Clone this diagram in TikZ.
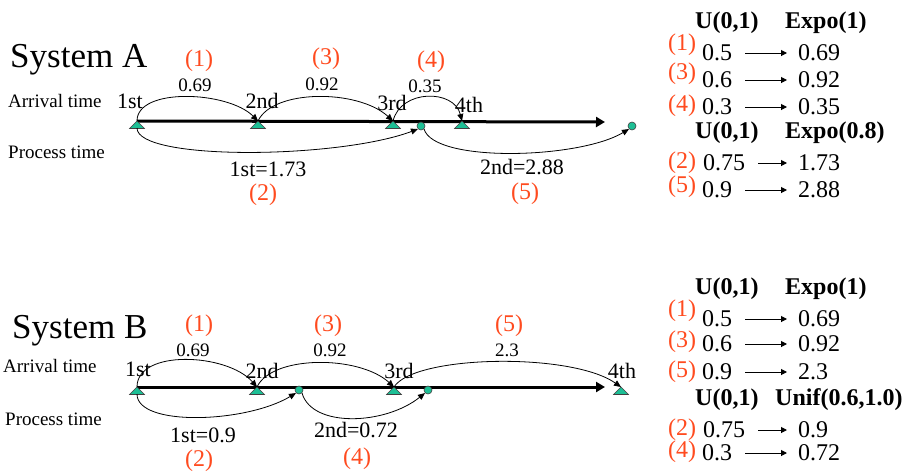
\documentclass[tikz,border=0pt]{standalone}
\usepackage{fontspec}
\setmainfont{Liberation Serif}
\usepackage{tikz}
\usetikzlibrary{arrows.meta}
\definecolor{arrgreen}{HTML}{1DBF95}
\definecolor{stepred}{HTML}{FF4B1F}

\begin{document}
\begin{tikzpicture}[
  x=1pt, y=1pt,
  systitle/.style={font=\fontsize{35}{40}\selectfont, inner sep=0pt, anchor=base west},
  rowlbl/.style={font=\fontsize{19}{22}\selectfont, inner sep=0pt, anchor=west},
  ordlbl/.style={font=\fontsize{22}{26}\selectfont, inner sep=0pt},
  vallbl/.style={font=\fontsize{19}{22}\selectfont, inner sep=0pt},
  durlbl/.style={font=\fontsize{22}{26}\selectfont, inner sep=0pt},
  steplbl/.style={font=\fontsize{24}{28}\selectfont, text=stepred, inner sep=0pt},
  colhead/.style={font=\bfseries\fontsize{24}{28}\selectfont, inner sep=0pt, anchor=west},
  numtxt/.style={font=\fontsize{24}{28}\selectfont, inner sep=0pt, anchor=west},
  timeline/.style={line width=3pt, -{Triangle[length=9pt,width=10pt]}},
  hop/.style={line width=0.8pt, -{Triangle[length=7pt,width=6pt]}},
  mapto/.style={line width=1pt, -{Triangle[length=6pt,width=6pt]},
                shorten <=13pt, shorten >=11pt},
  endpt/.style={circle, fill=arrgreen, draw=black!75, line width=0.6pt,
                minimum size=8pt, inner sep=0pt},
  arrv/.pic={\filldraw[fill=arrgreen, draw=black!75, line width=0.6pt]
             (0,0) -- (7.5,-7.5) -- (-7.5,-7.5) -- cycle;}
]
\useasboundingbox (0,0) rectangle (914,-472);

% ---------- System A ----------
\node[systitle] (sysA) at (10,-67) {System A};
\node[rowlbl] (arrA) at (8,-101) {Arrival time};
\node[rowlbl] (prcA) at (8,-152) {Process time};

\coordinate (tA1) at (137,-121);
\coordinate (tA2) at (258,-121);
\coordinate (tA3) at (393,-121);
\coordinate (tA4) at (462,-121);
\coordinate (endA) at (605,-122);

\draw[timeline] (tA1) -- (endA);
\pic at (tA1) {arrv};
\pic at (tA2) {arrv};
\pic at (tA3) {arrv};
\pic at (tA4) {arrv};
\node[endpt] (cA1) at (421,-126) {};
\node[endpt] (cA2) at (632,-126) {};

\node[ordlbl] (oA1) at (130,-101) {1st};
\node[ordlbl] (oA2) at (262,-101) {2nd};
\node[ordlbl] (oA3) at (392,-103) {3rd};
\node[ordlbl] (oA4) at (469,-105) {4th};

\draw[hop] (tA1) .. controls +(0,34) and +(-30,30) .. (tA2);
\draw[hop] (tA2) .. controls +(15,32) and +(-35,32) .. (tA3);
\draw[hop] (tA3) .. controls +(8,32) and +(-8,32) .. (tA4);
\draw[hop] ([yshift=-7pt]tA1) .. controls +(0,-33) and +(-80,-30) .. (cA1.south west);
\draw[hop] (cA1.south east) .. controls +(10,-34) and +(-50,-30) .. (cA2.south west);

\node[vallbl] (vA1) at (195,-85) {0.69};
\node[vallbl] (vA3) at (322,-84) {0.92};
\node[vallbl] (vA4) at (425,-86) {0.35};
\node[steplbl] (sA1) at (199,-61) {(1)};
\node[steplbl] (sA3) at (326,-59) {(3)};
\node[steplbl] (sA4) at (431,-62) {(4)};
\node[durlbl] (dA2) at (268,-169) {1st=1.73};
\node[durlbl] (dA5) at (522,-167) {2nd=2.88};
\node[steplbl] (sA2) at (263,-195) {(2)};
\node[steplbl] (sA5) at (525,-194) {(5)};

% table A
\node[colhead] (hA1) at (695,-23) {U(0,1)};
\node[colhead] (hA2) at (785,-23) {Expo(1)};
\node[steplbl, anchor=west] (kA1) at (668,-45) {(1)};
\node[numtxt] (uA1) at (702,-53) {0.5};
\node[numtxt] (eA1) at (798,-53) {0.69};
\node[steplbl, anchor=west] (kA3) at (668,-74) {(3)};
\node[numtxt] (uA3) at (702,-80) {0.6};
\node[numtxt] (eA3) at (798,-80) {0.92};
\node[steplbl, anchor=west] (kA4) at (668,-106) {(4)};
\node[numtxt] (uA4) at (702,-107) {0.3};
\node[numtxt] (eA4) at (798,-107) {0.35};
\node[colhead] (hA3) at (695,-133) {U(0,1)};
\node[colhead] (hA4) at (785,-133) {Expo(0.8)};
\node[steplbl, anchor=west] (kA2) at (668,-163) {(2)};
\node[numtxt] (uA2) at (703,-163) {0.75};
\node[numtxt] (eA2) at (798,-163) {1.73};
\node[steplbl, anchor=west] (kA5) at (668,-187) {(5)};
\node[numtxt] (uA5) at (702,-190) {0.9};
\node[numtxt] (eA5) at (798,-190) {2.88};
\draw[mapto] (uA1.east) -- (eA1.west);
\draw[mapto] (uA3.east) -- (eA3.west);
\draw[mapto] (uA4.east) -- (eA4.west);
\draw[mapto] (uA2.east) -- (eA2.west);
\draw[mapto] (uA5.east) -- (eA5.west);

% ---------- System B ----------
\node[systitle] (sysB) at (12,-338) {System B};
\node[rowlbl] (arrB) at (3,-366) {Arrival time};
\node[rowlbl] (prcB) at (5,-419) {Process time};

\coordinate (tB1) at (137,-387);
\coordinate (tB2) at (257,-387);
\coordinate (tB3) at (394,-387);
\coordinate (tB4) at (621,-387);
\coordinate (endB) at (605,-387);

\draw[timeline] (tB1) -- (endB);
\pic at (tB1) {arrv};
\pic at (tB2) {arrv};
\pic at (tB3) {arrv};
\pic at (tB4) {arrv};
\node[endpt] (cB1) at (299,-390) {};
\node[endpt] (cB2) at (428,-390) {};

\node[ordlbl] (oB1) at (138,-369) {1st};
\node[ordlbl] (oB2) at (262,-371) {2nd};
\node[ordlbl] (oB3) at (399,-371) {3rd};
\node[ordlbl] (oB4) at (622,-371) {4th};

\draw[hop] (tB1) .. controls +(0,38) and +(-30,34) .. (tB2);
\draw[hop] (tB2) .. controls +(15,32) and +(-35,32) .. (tB3);
\draw[hop] (tB3) .. controls +(20,32) and +(-50,35) .. (tB4);
\draw[hop] ([yshift=-7pt]tB1) .. controls +(0,-33) and +(-50,-30) .. (cB1.south west);
\draw[hop] (cB1.south east) .. controls +(10,-35) and +(-40,-32) .. (cB2.south west);

\node[vallbl] (vB1) at (193,-350) {0.69};
\node[vallbl] (vB3) at (330,-350) {0.92};
\node[vallbl] (vB5) at (507,-350) {2.3};
\node[steplbl] (sB1) at (199,-326) {(1)};
\node[steplbl] (sB3) at (328,-326) {(3)};
\node[steplbl] (sB5) at (509,-326) {(5)};
\node[durlbl] (dB2) at (203,-435) {1st=0.9};
\node[durlbl] (dB4) at (356,-430) {2nd=0.72};
\node[steplbl] (sB2) at (199,-461) {(2)};
\node[steplbl] (sB4) at (357,-459) {(4)};

% table B
\node[colhead] (hB1) at (695,-289) {U(0,1)};
\node[colhead] (hB2) at (785,-289) {Expo(1)};
\node[steplbl, anchor=west] (kB1) at (668,-311) {(1)};
\node[numtxt] (uB1) at (702,-319) {0.5};
\node[numtxt] (eB1) at (798,-319) {0.69};
\node[steplbl, anchor=west] (kB3) at (668,-342) {(3)};
\node[numtxt] (uB3) at (702,-344) {0.6};
\node[numtxt] (eB3) at (798,-344) {0.92};
\node[steplbl, anchor=west] (kB5) at (668,-372) {(5)};
\node[numtxt] (uB5) at (702,-372) {0.9};
\node[numtxt] (eB5) at (798,-372) {2.3};
\node[colhead] (hB3) at (695,-400) {U(0,1)};
\node[colhead] (hB4) at (775,-400) {Unif(0.6,1.0)};
\node[steplbl, anchor=west] (kB2) at (668,-430) {(2)};
\node[numtxt] (uB2) at (703,-430) {0.75};
\node[numtxt] (eB2) at (798,-430) {0.9};
\node[steplbl, anchor=west] (kB4) at (668,-452) {(4)};
\node[numtxt] (uB4) at (702,-453) {0.3};
\node[numtxt] (eB4) at (798,-453) {0.72};
\draw[mapto] (uB1.east) -- (eB1.west);
\draw[mapto] (uB3.east) -- (eB3.west);
\draw[mapto] (uB5.east) -- (eB5.west);
\draw[mapto] (uB2.east) -- (eB2.west);
\draw[mapto] (uB4.east) -- (eB4.west);
\end{tikzpicture}
\end{document}
